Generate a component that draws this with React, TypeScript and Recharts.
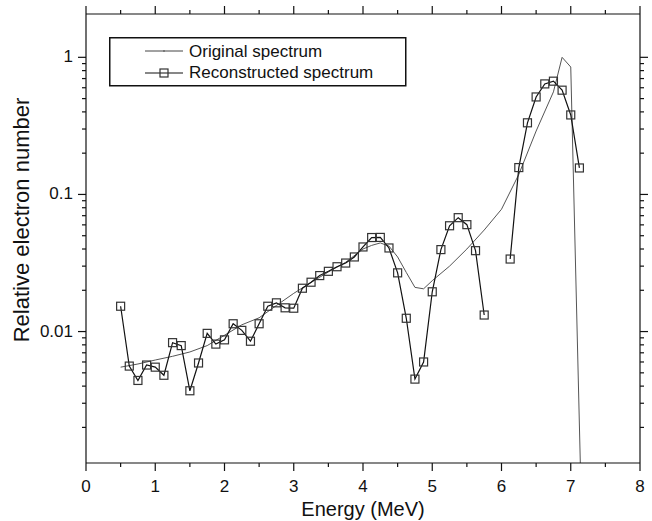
import { Line, LineChart, XAxis, YAxis } from "recharts";

// Original spectrum (thin grey line)
const origEnergy = [
  0.5, 0.75, 1.0, 1.25, 1.5, 1.75, 2.0, 2.25, 2.5, 2.75, 3.0, 3.25, 3.5, 3.75, 4.0, 4.125, 4.25, 4.375, 4.5,
  4.625, 4.75, 4.875, 5.0, 5.25, 5.5, 5.75, 6.0, 6.25, 6.5, 6.75, 6.875, 7.0, 7.14,
];
const origValue = [
  0.0055, 0.0058, 0.0062, 0.0066, 0.0071, 0.0079, 0.0094, 0.0112, 0.0126, 0.0155, 0.019, 0.0228, 0.0272, 0.032,
  0.04, 0.0425, 0.0443, 0.042, 0.035, 0.027, 0.021, 0.0205, 0.0235, 0.03, 0.04, 0.055, 0.078, 0.14, 0.29, 0.56,
  1.0, 0.85, 0.001,
];

// Reconstructed spectrum (black line with square markers), 0.5..7.125 MeV step 0.125
const reconEnergy = [
  0.5, 0.625, 0.75, 0.875, 1.0, 1.125, 1.25, 1.375, 1.5, 1.625, 1.75, 1.875, 2.0, 2.125, 2.25, 2.375, 2.5, 2.625,
  2.75, 2.875, 3.0, 3.125, 3.25, 3.375, 3.5, 3.625, 3.75, 3.875, 4.0, 4.125, 4.25, 4.375, 4.5, 4.625, 4.75, 4.875,
  5.0, 5.125, 5.25, 5.375, 5.5, 5.625, 5.75, 5.875, 6.0, 6.125, 6.25, 6.375, 6.5, 6.625, 6.75, 6.875, 7.0, 7.125,
];
const reconValue: (number | null)[] = [
  0.0153, 0.0056, 0.0044, 0.0057, 0.0055, 0.0048, 0.0083, 0.0079, 0.0037, 0.0059, 0.0097, 0.0081, 0.0087, 0.0114,
  0.0102, 0.0085, 0.0114, 0.0153, 0.0162, 0.0149, 0.0148, 0.0207, 0.0229, 0.0256, 0.0275, 0.0297, 0.0316, 0.035,
  0.0414, 0.0485, 0.0486, 0.0407, 0.0268, 0.0125, 0.0045, 0.006, 0.0195, 0.0396, 0.0591, 0.0677, 0.0602, 0.0389,
  0.0132, null, null, 0.0338, 0.157, 0.333, 0.514, 0.64, 0.67, 0.576, 0.38, 0.156,
];

const xTicks = [0, 0.5, 1, 1.5, 2, 2.5, 3, 3.5, 4, 4.5, 5, 5.5, 6, 6.5, 7, 7.5, 8];
const yMajor = [0.01, 0.1, 1];
const yMajorLabels = ["0.01", "0.1", "1"];
const yTicks = [
  0.002, 0.003, 0.004, 0.005, 0.006, 0.007, 0.008, 0.009, 0.01, 0.02, 0.03, 0.04, 0.05, 0.06, 0.07, 0.08, 0.09, 0.1,
  0.2, 0.3, 0.4, 0.5, 0.6, 0.7, 0.8, 0.9, 1,
];

const origData = origEnergy.map((e, i) => ({ e, v: origValue[i] }));
const reconData = reconEnergy.map((e, i) => ({ e, v: reconValue[i] }));

const FONT = "'Liberation Sans', Arial, sans-serif";
const INK = "#111";

const isMajorY = (v: number) => yMajor.some((m) => Math.abs(m - v) < 1e-9);

function BottomTick({ x, y, payload }: any) {
  const major = Number.isInteger(payload.value);
  return (
    <g>
      <line x1={x} x2={x} y1={y} y2={y + (major ? 8 : 4)} stroke={INK} strokeWidth={1.2} />
      {major && (
        <text x={x} y={y + 29} textAnchor="middle" fontSize={17} fontFamily={FONT} fill={INK}>
          {payload.value}
        </text>
      )}
    </g>
  );
}

function TopTick({ x, y, payload }: any) {
  const major = Number.isInteger(payload.value);
  return <line x1={x} x2={x} y1={y} y2={y - (major ? 8 : 4)} stroke={INK} strokeWidth={1.2} />;
}

function LeftTick({ x, y, payload }: any) {
  const major = isMajorY(payload.value);
  const idx = yMajor.findIndex((m) => Math.abs(m - payload.value) < 1e-9);
  return (
    <g>
      <line x1={x} x2={x - (major ? 8 : 4)} y1={y} y2={y} stroke={INK} strokeWidth={1.2} />
      {major && (
        <text x={x - 13} y={y + 5} textAnchor="end" fontSize={17} fontFamily={FONT} fill={INK}>
          {yMajorLabels[idx]}
        </text>
      )}
    </g>
  );
}

function RightTick({ x, y, payload }: any) {
  const major = isMajorY(payload.value);
  return <line x1={x} x2={x + (major ? 8 : 4)} y1={y} y2={y} stroke={INK} strokeWidth={1.2} />;
}

function SquareDot(props: any) {
  const { cx, cy, value, index } = props;
  if (value == null || cx == null || cy == null) return <g key={`d${index}`} />;
  return <rect key={`d${index}`} x={cx - 4} y={cy - 4} width={8} height={8} fill="none" stroke="#333" strokeWidth={1.2} />;
}

function LegendBox() {
  return (
    <svg width={298} height={50} style={{ display: "block" }}>
      <rect x={0.75} y={0.75} width={296} height={48} fill="#fff" stroke={INK} strokeWidth={1.5} />
      <line x1={36} x2={74} y1={14} y2={14} stroke="#444" strokeWidth={1} />
      <circle cx={55} cy={14} r={0.8} fill="#444" />
      <text x={80} y={20} fontSize={17} fontFamily={FONT} fill={INK}>
        Original spectrum
      </text>
      <line x1={36} x2={74} y1={36} y2={36} stroke={INK} strokeWidth={1.2} />
      <rect x={51} y={32} width={8} height={8} fill="none" stroke="#333" strokeWidth={1.2} />
      <text x={80} y={41} fontSize={17} fontFamily={FONT} fill={INK}>
        Reconstructed spectrum
      </text>
    </svg>
  );
}

export default function App() {
  return (
    <div style={{ position: "absolute", left: 0, top: 0, width: 652, height: 521, background: "#fff" }}>
      <LineChart width={652} height={521} margin={{ top: 0, right: 0, bottom: 0, left: 0 }}>
        <XAxis
          xAxisId="bottom"
          dataKey="e"
          type="number"
          domain={[0, 8]}
          ticks={xTicks}
          interval={0}
          height={58}
          tickSize={0}
          tickMargin={0}
          stroke={INK}
          strokeWidth={1.2}
          tick={BottomTick}
          allowDataOverflow
          label={{
            content: () => (
              <text x={363} y={516} textAnchor="middle" fontSize={20} fontFamily={FONT} fill={INK}>
                Energy (MeV)
              </text>
            ),
          }}
        />
        <XAxis
          xAxisId="top"
          orientation="top"
          dataKey="e"
          type="number"
          domain={[0, 8]}
          ticks={xTicks}
          interval={0}
          height={14}
          tickSize={0}
          tickMargin={0}
          stroke={INK}
          strokeWidth={1.2}
          tick={TopTick}
          allowDataOverflow
        />
        <YAxis
          yAxisId="left"
          scale="log"
          domain={[0.0011, 2.07]}
          ticks={yTicks}
          interval={0}
          width={86}
          tickSize={0}
          tickMargin={0}
          stroke={INK}
          strokeWidth={1.2}
          tick={LeftTick}
          allowDataOverflow
          label={{
            content: () => (
              <text
                x={29}
                y={220}
                transform="rotate(-90 29 220)"
                textAnchor="middle"
                fontSize={22}
                fontFamily={FONT}
                fill={INK}
              >
                Relative electron number
              </text>
            ),
          }}
        />
        <YAxis
          yAxisId="right"
          orientation="right"
          scale="log"
          domain={[0.0011, 2.07]}
          ticks={yTicks}
          interval={0}
          width={12}
          tickSize={0}
          tickMargin={0}
          stroke={INK}
          strokeWidth={1.2}
          tick={RightTick}
          allowDataOverflow
        />
        <Line
          xAxisId="bottom"
          yAxisId="left"
          data={origData}
          dataKey="v"
          type="linear"
          stroke="#555"
          strokeWidth={1}
          dot={false}
          activeDot={false}
          isAnimationActive={false}
        />
        <Line
          xAxisId="bottom"
          yAxisId="left"
          data={reconData}
          dataKey="v"
          type="linear"
          stroke={INK}
          strokeWidth={1.2}
          dot={SquareDot}
          activeDot={false}
          connectNulls={false}
          isAnimationActive={false}
        />
      </LineChart>
      <div style={{ position: "absolute", left: 109, top: 37 }}>
        <LegendBox />
      </div>
    </div>
  );
}
